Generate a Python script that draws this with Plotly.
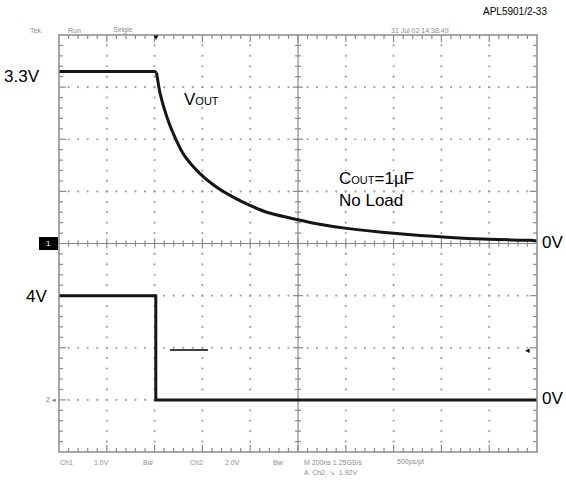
import plotly.graph_objects as go

# ---------------- data ----------------
# channel 1 (VOUT), time in ns, volts
ch1_t = [-400, -200, 0, 8, 23, 51, 78, 120, 190, 260, 329, 399, 469, 595, 678, 804, 1013, 1222, 1400, 1571, 1600]
ch1_v = [3.3, 3.3, 3.3, 3.28, 2.88, 2.43, 2.11, 1.72, 1.34, 1.08, 0.89, 0.73, 0.60, 0.46, 0.38, 0.29, 0.19, 0.12, 0.08, 0.06, 0.05]
ch1_fall_index = 3   # sample where the discharge begins
# channel 2 (enable), time in ns, volts
ch2_t = [-400, 5, 5, 1600]
ch2_v = [4.0, 4.0, 0.0, 0.0]

ch1_scale = 1.0    # V/div
ch1_offset = 0.0   # div
ch2_scale = 2.0    # V/div
ch2_offset = -3.0  # div
trig_level = 1.92  # V on ch2

t_div = 200.0      # ns/div
t_left = -400.0
n_xdiv = 10
n_ydiv = 8

# ---------------- layout geometry ----------------
W, H = 566, 483
L, R, T, B = 59, 537, 35, 452
pw, ph = R - L, B - T
ns_per_px = t_div * n_xdiv / pw
div_per_px = n_ydiv / ph

x0, x1 = t_left, t_left + t_div * n_xdiv
y0, y1 = -n_ydiv / 2, n_ydiv / 2

def px2paper(x, y):
    return (x - L) / pw, (B - y) / ph

fig = go.Figure()

# dotted grid
gx, gy = [], []
for i in range(1, n_xdiv):
    if i == n_xdiv // 2:
        continue
    xx = x0 + i * t_div
    for k in range(1, n_ydiv * 5):
        gx.append(xx); gy.append(y0 + k * 0.2)
for j in range(1, n_ydiv):
    if j == n_ydiv // 2:
        continue
    yy = y0 + j
    for k in range(1, n_xdiv * 5):
        gx.append(x0 + k * t_div / 5); gy.append(yy)
fig.add_trace(go.Scatter(x=gx, y=gy, mode="markers",
                         marker=dict(size=2.2, color="#a0a0a0"),
                         hoverinfo="skip", showlegend=False))

# ticks on border and center cross
sx, sy = [], []
def seg(xa, ya, xb, yb):
    sx.extend([xa, xb, None]); sy.extend([ya, yb, None])

xc = x0 + t_div * n_xdiv / 2
for k in range(1, n_xdiv * 5):
    xx = x0 + k * t_div / 5
    major = (k % 5 == 0)
    ln = (7 if major else 4)
    seg(xx, y1, xx, y1 - ln * div_per_px)
    seg(xx, y0, xx, y0 + ln * div_per_px)
    cl = (5 if major else 3)
    seg(xx, -cl * div_per_px, xx, cl * div_per_px)
for k in range(1, n_ydiv * 5):
    yy = y0 + k * 0.2
    major = (k % 5 == 0)
    ln = (7 if major else 4)
    seg(x0, yy, x0 + ln * ns_per_px, yy)
    seg(x1, yy, x1 - ln * ns_per_px, yy)
    cl = (5 if major else 3)
    seg(xc - cl * ns_per_px, yy, xc + cl * ns_per_px, yy)
# center cross lines
seg(x0, 0, x1, 0)
seg(xc, y0, xc, y1)
fig.add_trace(go.Scatter(x=sx, y=sy, mode="lines",
                         line=dict(color="#8a8a8a", width=1.2),
                         hoverinfo="skip", showlegend=False))

# traces
ch1_y = [v / ch1_scale + ch1_offset for v in ch1_v]
fig.add_trace(go.Scatter(x=ch1_t[:ch1_fall_index + 1], y=ch1_y[:ch1_fall_index + 1],
                         mode="lines", line=dict(color="#151515", width=3),
                         hoverinfo="skip", showlegend=False))
fig.add_trace(go.Scatter(x=ch1_t[ch1_fall_index:], y=ch1_y[ch1_fall_index:],
                         mode="lines", line=dict(color="#151515", width=3, shape="spline", smoothing=0.8),
                         hoverinfo="skip", showlegend=False))
fig.add_trace(go.Scatter(x=ch2_t, y=[v / ch2_scale + ch2_offset for v in ch2_v],
                         mode="lines", line=dict(color="#151515", width=3),
                         hoverinfo="skip", showlegend=False))

shapes = []
# border
shapes.append(dict(type="rect", xref="paper", yref="paper", x0=0, y0=0, x1=1, y1=1,
                   line=dict(color="#8a8a8a", width=1.5)))
# short line in lower panel
ax0, ay = px2paper(170, 350)
ax1, _ = px2paper(208, 350)
shapes.append(dict(type="line", xref="paper", yref="paper", x0=ax0, x1=ax1, y0=ay, y1=ay,
                   line=dict(color="black", width=1.5)))
# ch1 ground marker box
bx0, by0 = px2paper(39, 250)
bx1, by1 = px2paper(58, 237)
shapes.append(dict(type="rect", xref="paper", yref="paper", x0=bx0, y0=by0, x1=bx1, y1=by1,
                   fillcolor="black", line=dict(color="black", width=0)))

annotations = []
def txt(s, x, y, size, color="black", xanchor="left", yanchor="middle", family="Liberation Sans, Arial, sans-serif"):
    px, py = px2paper(x, y)
    annotations.append(dict(text=s, x=px, y=py, xref="paper", yref="paper", showarrow=False,
                            xanchor=xanchor, yanchor=yanchor,
                            font=dict(size=size, color=color, family=family)))

txt("3.3V", 2, 76, 17)
txt("V<span style='font-size:11px'>OUT</span>", 182, 99, 17)
txt("C<span style='font-size:11px'>OUT</span>=1µF", 337, 178, 17)
txt("No Load", 337, 200, 17)
txt("0V", 540, 242, 17)
txt("4V", 24, 296, 17)
txt("0V", 540, 398, 17)
txt("APL5901/2-33", 549, 12, 10, xanchor="right")
txt("1", 44, 243, 8, color="white")
txt("2 ◂", 44, 399, 7, color="#777")

g = "#8c8c8c"
txt("Tek", 28, 30, 7, color=g)
txt("Run", 66, 30, 7, color=g)
txt("Single", 111, 30, 7, color=g)
txt("31 Jul 02 14:38:49", 389, 30, 7, color=g)
txt("Ch1", 58, 462, 7, color=g)
txt("1.0V", 92, 462, 7, color=g)
txt("Bw", 141, 462, 7, color=g)
txt("Ch2", 188, 462, 7, color=g)
txt("2.0V", 223, 462, 7, color=g)
txt("Bw", 271, 462, 7, color=g)
txt("M 200ns 1.25GS/s", 302, 462, 7, color=g)
txt("500ps/pt", 395, 462, 7, color=g)
txt("A  Ch2  ↘  1.92V", 302, 473, 7, color=g)
# trigger markers
txt("▼", 156, 38, 8, xanchor="center")
tpx, tpy = px2paper(527, (B + T) / 2 - (trig_level / ch2_scale + ch2_offset) / div_per_px)
annotations.append(dict(text="◂", x=tpx, y=tpy, xref="paper", yref="paper", showarrow=False,
                        xanchor="center", yanchor="middle", font=dict(size=9, color="black")))

fig.update_layout(
    width=W, height=H,
    margin=dict(l=L, r=W - R, t=T, b=H - B, pad=0),
    paper_bgcolor="white", plot_bgcolor="white",
    xaxis=dict(range=[x0, x1], showgrid=False, zeroline=False, showticklabels=False,
               ticks="", showline=False, fixedrange=True),
    yaxis=dict(range=[y0, y1], showgrid=False, zeroline=False, showticklabels=False,
               ticks="", showline=False, fixedrange=True),
    shapes=shapes, annotations=annotations, showlegend=False,
)

fig.write_html("out.html", config={"displayModeBar": False},
               post_script="document.body.style.margin='0';document.body.style.overflow='hidden';")
